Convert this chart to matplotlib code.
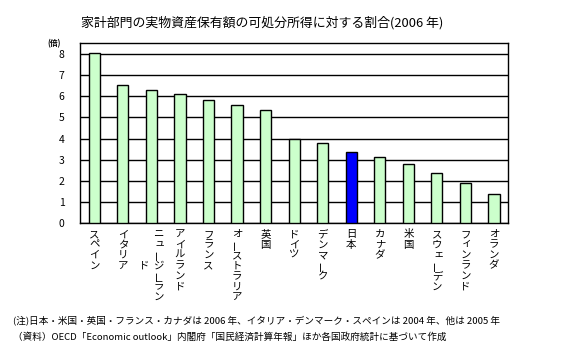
import numpy as np
import matplotlib
matplotlib.use("Agg")
import matplotlib.pyplot as plt

plt.rcParams['font.family'] = ['Noto Sans CJK JP', 'DejaVu Sans']

# 国名と値(倍)
countries = ["スペイン", "イタリア", "ニュージーランド", "アイルランド", "フランス",
             "オーストラリア", "英国", "ドイツ", "デンマーク", "日本", "カナダ",
             "米国", "スウェーデン", "フィンランド", "オランダ"]
values = [8.06, 6.54, 6.30, 6.11, 5.83, 5.59, 5.36, 3.97, 3.79, 3.36, 3.13,
          2.80, 2.37, 1.90, 1.37]
highlight = "日本"

title = "家計部門の実物資産保有額の可処分所得に対する割合(2006 年)"
note1 = "(注)日本・米国・英国・フランス・カナダは 2006 年、イタリア・デンマーク・スペインは 2004 年、他は 2005 年"
note2 = "（資料）OECD「Economic outlook」内閣府「国民経済計算年報」ほか各国政府統計に基づいて作成"

W, H = 572, 353
fig = plt.figure(figsize=(W / 100, H / 100), dpi=100)
ax = fig.add_axes([80 / W, (H - 223.3) / H, (508.3 - 80) / W, (223.3 - 43.3) / H])

x = np.arange(len(countries))
colors = ['#0000FF' if c == highlight else '#CCFFCC' for c in countries]
ax.bar(x, values, width=0.39, color=colors, edgecolor='black', linewidth=1.0, zorder=3)

ax.set_xlim(-0.5, len(countries) - 0.5)
ax.set_ylim(0, 8.5)
ax.set_yticks(range(0, 9))
ax.yaxis.grid(True, color='black', linewidth=1.0, zorder=0)
ax.set_axisbelow(True)
ax.tick_params(axis='y', length=0, pad=11, labelsize=7.5)
ax.tick_params(axis='x', length=0, labelbottom=False)
for s in ax.spines.values():
    s.set_linewidth(1.0)
    s.set_color('black')

ax.text(-0.06, 1.0, "(倍)", transform=ax.transAxes, fontsize=5.5,
        ha='center', va='center', fontweight='bold')

# 縦書きラベル(1文字ずつ配置)
step = 10.4
max_rows = 7
small = "ュッェャョィ"
for i, name in enumerate(countries):
    cols = [name[j:j + max_rows] for j in range(0, len(name), max_rows)]
    ncol = len(cols)
    for k, col in enumerate(cols):
        dx = (ncol - 1) * 7 - k * 14
        row0 = 0 if k == 0 else (max_rows - len(col)) // 2
        for r, ch in enumerate(col):
            rot = 90 if ch == "ー" else 0
            ox, oy = dx, -11 - (row0 + r) * step
            if ch in small:
                ox += 1.5
                oy += 1.5
            ax.annotate(ch, xy=(i, 0), xycoords=('data', 'axes fraction'),
                        xytext=(ox, oy), textcoords='offset pixels',
                        ha='center', va='center', fontsize=7.5, rotation=rot,
                        annotation_clip=False)

fig.text(262.5 / W, 1 - 23 / H, title, ha='center', va='center', fontsize=9.3)
fig.text(13 / W, 1 - 320 / H, note1, ha='left', va='center', fontsize=6.9)
fig.text(13 / W, 1 - 337 / H, note2, ha='left', va='center', fontsize=6.9)

fig.savefig("out.png", dpi=100)
